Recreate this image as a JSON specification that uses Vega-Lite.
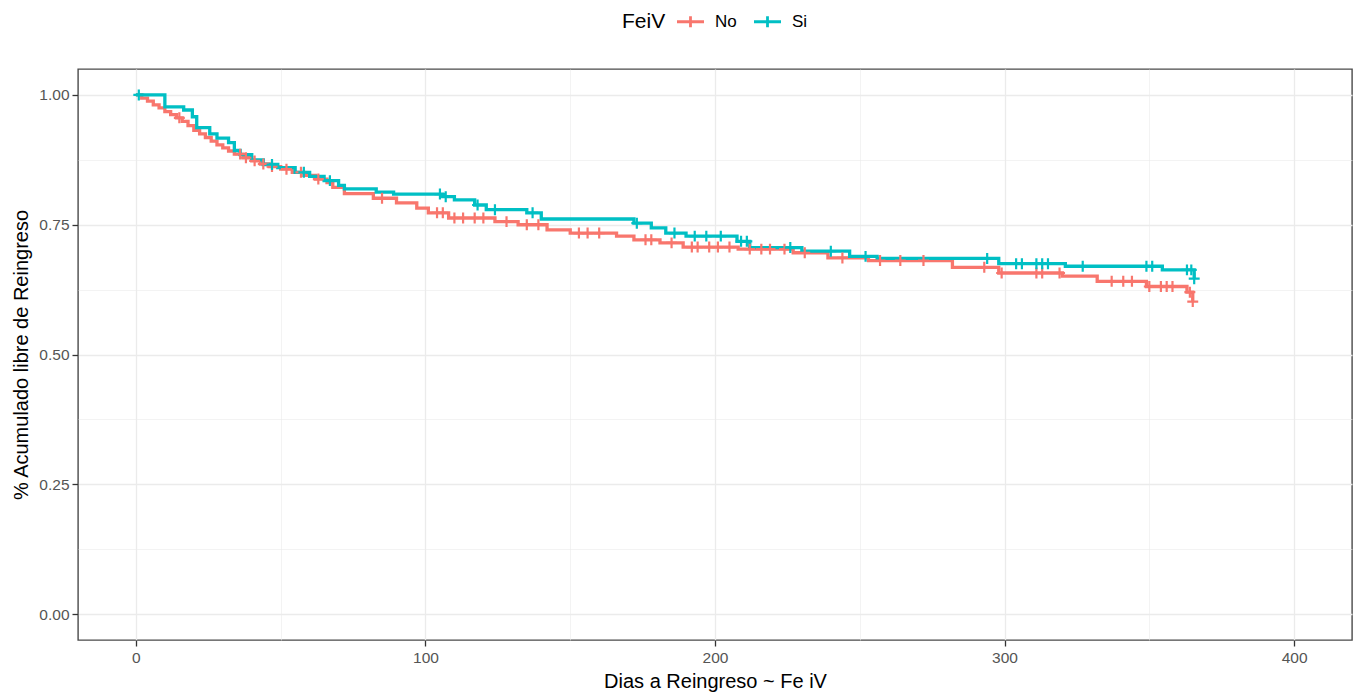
{
  "$schema": "https://vega.github.io/schema/vega-lite/v6.json",
  "width": 1274,
  "height": 571,
  "autosize": {"type": "none"},
  "padding": {"left": 78, "top": 69, "right": 6, "bottom": 53},
  "background": "white",
  "config": {
    "font": "Liberation Sans",
    "view": {"stroke": "#4a4a4a", "strokeWidth": 1.4},
    "axis": {"domain": false, "labelFont": "Liberation Sans", "titleFont": "Liberation Sans", "labelColor": "#555555", "labelFontSize": 15.5, "titleFontSize": 20, "titleFontWeight": "normal", "titleColor": "#000000", "tickColor": "#333333", "tickSize": 6, "tickWidth": 1.3, "gridColor": "#EBEBEB"},
    "legend": {"orient": "none", "legendX": 544, "legendY": -58, "direction": "horizontal", "titleOrient": "left", "titleFontSize": 21, "titleFontWeight": "normal", "titleColor": "#000000", "labelFontSize": 17, "labelColor": "#000000", "titleFont": "Liberation Sans", "labelFont": "Liberation Sans"}
  },
  "datasets": {
    "steps": [
      {"FeiV": "No", "t": 0, "s": 1.0}, {"FeiV": "No", "t": 2, "s": 0.994}, {"FeiV": "No", "t": 4, "s": 0.988}, {"FeiV": "No", "t": 6, "s": 0.981},
      {"FeiV": "No", "t": 8, "s": 0.975}, {"FeiV": "No", "t": 10, "s": 0.968}, {"FeiV": "No", "t": 12, "s": 0.962}, {"FeiV": "No", "t": 14, "s": 0.956},
      {"FeiV": "No", "t": 16, "s": 0.949}, {"FeiV": "No", "t": 18, "s": 0.941}, {"FeiV": "No", "t": 20, "s": 0.932}, {"FeiV": "No", "t": 22, "s": 0.925},
      {"FeiV": "No", "t": 24, "s": 0.918}, {"FeiV": "No", "t": 26, "s": 0.911}, {"FeiV": "No", "t": 28, "s": 0.904}, {"FeiV": "No", "t": 30, "s": 0.898},
      {"FeiV": "No", "t": 32, "s": 0.892}, {"FeiV": "No", "t": 34, "s": 0.886}, {"FeiV": "No", "t": 37, "s": 0.879}, {"FeiV": "No", "t": 40, "s": 0.873},
      {"FeiV": "No", "t": 43, "s": 0.867}, {"FeiV": "No", "t": 46, "s": 0.862}, {"FeiV": "No", "t": 50, "s": 0.857}, {"FeiV": "No", "t": 54, "s": 0.851},
      {"FeiV": "No", "t": 58, "s": 0.845}, {"FeiV": "No", "t": 62, "s": 0.838}, {"FeiV": "No", "t": 66, "s": 0.831}, {"FeiV": "No", "t": 68, "s": 0.822},
      {"FeiV": "No", "t": 72, "s": 0.81}, {"FeiV": "No", "t": 82, "s": 0.801}, {"FeiV": "No", "t": 90, "s": 0.792}, {"FeiV": "No", "t": 97, "s": 0.782},
      {"FeiV": "No", "t": 101, "s": 0.773}, {"FeiV": "No", "t": 108, "s": 0.763}, {"FeiV": "No", "t": 124, "s": 0.756}, {"FeiV": "No", "t": 132, "s": 0.75},
      {"FeiV": "No", "t": 142, "s": 0.74}, {"FeiV": "No", "t": 150, "s": 0.734}, {"FeiV": "No", "t": 166, "s": 0.728}, {"FeiV": "No", "t": 172, "s": 0.721},
      {"FeiV": "No", "t": 181, "s": 0.715}, {"FeiV": "No", "t": 189, "s": 0.707}, {"FeiV": "No", "t": 208, "s": 0.703}, {"FeiV": "No", "t": 227, "s": 0.696},
      {"FeiV": "No", "t": 239, "s": 0.686}, {"FeiV": "No", "t": 253, "s": 0.681}, {"FeiV": "No", "t": 282, "s": 0.668}, {"FeiV": "No", "t": 298, "s": 0.657},
      {"FeiV": "No", "t": 320, "s": 0.651}, {"FeiV": "No", "t": 332, "s": 0.641}, {"FeiV": "No", "t": 349, "s": 0.631}, {"FeiV": "No", "t": 363, "s": 0.62},
      {"FeiV": "No", "t": 365, "s": 0.602},
      {"FeiV": "Si", "t": 0, "s": 1.0}, {"FeiV": "Si", "t": 10, "s": 0.977}, {"FeiV": "Si", "t": 16.5, "s": 0.971}, {"FeiV": "Si", "t": 19.5, "s": 0.958},
      {"FeiV": "Si", "t": 21, "s": 0.937}, {"FeiV": "Si", "t": 25.5, "s": 0.925}, {"FeiV": "Si", "t": 28, "s": 0.917}, {"FeiV": "Si", "t": 32, "s": 0.908},
      {"FeiV": "Si", "t": 34, "s": 0.893}, {"FeiV": "Si", "t": 36, "s": 0.885}, {"FeiV": "Si", "t": 40, "s": 0.875}, {"FeiV": "Si", "t": 44, "s": 0.866},
      {"FeiV": "Si", "t": 49, "s": 0.86}, {"FeiV": "Si", "t": 55, "s": 0.851}, {"FeiV": "Si", "t": 60, "s": 0.843}, {"FeiV": "Si", "t": 65, "s": 0.835},
      {"FeiV": "Si", "t": 70, "s": 0.826}, {"FeiV": "Si", "t": 72, "s": 0.819}, {"FeiV": "Si", "t": 83, "s": 0.813}, {"FeiV": "Si", "t": 89, "s": 0.809},
      {"FeiV": "Si", "t": 106, "s": 0.804}, {"FeiV": "Si", "t": 110, "s": 0.798}, {"FeiV": "Si", "t": 117, "s": 0.788}, {"FeiV": "Si", "t": 121, "s": 0.779},
      {"FeiV": "Si", "t": 135, "s": 0.773}, {"FeiV": "Si", "t": 140, "s": 0.761}, {"FeiV": "Si", "t": 172, "s": 0.753}, {"FeiV": "Si", "t": 178, "s": 0.744},
      {"FeiV": "Si", "t": 183, "s": 0.734}, {"FeiV": "Si", "t": 190, "s": 0.728}, {"FeiV": "Si", "t": 207.6, "s": 0.718}, {"FeiV": "Si", "t": 212, "s": 0.706},
      {"FeiV": "Si", "t": 230, "s": 0.699}, {"FeiV": "Si", "t": 246.5, "s": 0.689}, {"FeiV": "Si", "t": 256, "s": 0.685}, {"FeiV": "Si", "t": 298, "s": 0.675},
      {"FeiV": "Si", "t": 321, "s": 0.67}, {"FeiV": "Si", "t": 354.5, "s": 0.663}, {"FeiV": "Si", "t": 365.5, "s": 0.646}
    ],
    "cens": [
      {"FeiV": "No", "t": 15, "s": 0.956}, {"FeiV": "No", "t": 36, "s": 0.886}, {"FeiV": "No", "t": 38, "s": 0.879}, {"FeiV": "No", "t": 41, "s": 0.873},
      {"FeiV": "No", "t": 44, "s": 0.867}, {"FeiV": "No", "t": 47, "s": 0.862}, {"FeiV": "No", "t": 52, "s": 0.857}, {"FeiV": "No", "t": 57, "s": 0.851},
      {"FeiV": "No", "t": 63, "s": 0.838}, {"FeiV": "No", "t": 85, "s": 0.801}, {"FeiV": "No", "t": 104, "s": 0.773}, {"FeiV": "No", "t": 106, "s": 0.773},
      {"FeiV": "No", "t": 110, "s": 0.763}, {"FeiV": "No", "t": 113, "s": 0.763}, {"FeiV": "No", "t": 117, "s": 0.763}, {"FeiV": "No", "t": 120, "s": 0.763},
      {"FeiV": "No", "t": 128, "s": 0.756}, {"FeiV": "No", "t": 135, "s": 0.75}, {"FeiV": "No", "t": 139, "s": 0.75}, {"FeiV": "No", "t": 153, "s": 0.734},
      {"FeiV": "No", "t": 156, "s": 0.734}, {"FeiV": "No", "t": 160, "s": 0.734}, {"FeiV": "No", "t": 176, "s": 0.721}, {"FeiV": "No", "t": 178, "s": 0.721},
      {"FeiV": "No", "t": 185, "s": 0.715}, {"FeiV": "No", "t": 192, "s": 0.707}, {"FeiV": "No", "t": 194, "s": 0.707}, {"FeiV": "No", "t": 198, "s": 0.707},
      {"FeiV": "No", "t": 201, "s": 0.707}, {"FeiV": "No", "t": 205, "s": 0.707}, {"FeiV": "No", "t": 212, "s": 0.703}, {"FeiV": "No", "t": 216, "s": 0.703},
      {"FeiV": "No", "t": 219, "s": 0.703}, {"FeiV": "No", "t": 224, "s": 0.703}, {"FeiV": "No", "t": 231, "s": 0.696}, {"FeiV": "No", "t": 244, "s": 0.686},
      {"FeiV": "No", "t": 257, "s": 0.681}, {"FeiV": "No", "t": 264, "s": 0.681}, {"FeiV": "No", "t": 272, "s": 0.681}, {"FeiV": "No", "t": 293, "s": 0.668},
      {"FeiV": "No", "t": 299, "s": 0.657}, {"FeiV": "No", "t": 311, "s": 0.657}, {"FeiV": "No", "t": 313, "s": 0.657}, {"FeiV": "No", "t": 319, "s": 0.657},
      {"FeiV": "No", "t": 337, "s": 0.641}, {"FeiV": "No", "t": 341, "s": 0.641}, {"FeiV": "No", "t": 344, "s": 0.641}, {"FeiV": "No", "t": 350, "s": 0.631},
      {"FeiV": "No", "t": 354, "s": 0.631}, {"FeiV": "No", "t": 356, "s": 0.631}, {"FeiV": "No", "t": 358, "s": 0.631}, {"FeiV": "No", "t": 364, "s": 0.62},
      {"FeiV": "No", "t": 365, "s": 0.602},
      {"FeiV": "Si", "t": 1, "s": 1.0}, {"FeiV": "Si", "t": 47, "s": 0.866}, {"FeiV": "Si", "t": 58, "s": 0.851}, {"FeiV": "Si", "t": 67, "s": 0.835},
      {"FeiV": "Si", "t": 105, "s": 0.809}, {"FeiV": "Si", "t": 107, "s": 0.804}, {"FeiV": "Si", "t": 118, "s": 0.788}, {"FeiV": "Si", "t": 124, "s": 0.779},
      {"FeiV": "Si", "t": 137, "s": 0.773}, {"FeiV": "Si", "t": 173, "s": 0.753}, {"FeiV": "Si", "t": 186, "s": 0.734}, {"FeiV": "Si", "t": 193, "s": 0.728},
      {"FeiV": "Si", "t": 197, "s": 0.728}, {"FeiV": "Si", "t": 202, "s": 0.728}, {"FeiV": "Si", "t": 209, "s": 0.718}, {"FeiV": "Si", "t": 211, "s": 0.718},
      {"FeiV": "Si", "t": 226, "s": 0.706}, {"FeiV": "Si", "t": 240, "s": 0.699}, {"FeiV": "Si", "t": 252, "s": 0.689}, {"FeiV": "Si", "t": 294, "s": 0.685},
      {"FeiV": "Si", "t": 304, "s": 0.675}, {"FeiV": "Si", "t": 306, "s": 0.675}, {"FeiV": "Si", "t": 311, "s": 0.675}, {"FeiV": "Si", "t": 313, "s": 0.675},
      {"FeiV": "Si", "t": 315, "s": 0.675}, {"FeiV": "Si", "t": 327, "s": 0.67}, {"FeiV": "Si", "t": 349, "s": 0.67}, {"FeiV": "Si", "t": 351, "s": 0.67},
      {"FeiV": "Si", "t": 363, "s": 0.663}, {"FeiV": "Si", "t": 364.5, "s": 0.663}, {"FeiV": "Si", "t": 365.5, "s": 0.646}
    ]
  },
  "encoding": {
    "x": {"field": "t", "type": "quantitative", "scale": {"domain": [-20, 420], "nice": false, "zero": false},
      "axis": {"title": "Dias a Reingreso ~ Fe iV", "values": [0, 50, 100, 150, 200, 250, 300, 350, 400],
        "labelExpr": "datum.value % 100 === 0 ? datum.label : ''",
        "gridWidth": {"condition": {"test": "datum.value % 100 === 0", "value": 1.3}, "value": 0.6},
        "tickOpacity": {"condition": {"test": "datum.value % 100 === 0", "value": 1}, "value": 0},
        "labelPadding": 4, "titlePadding": 6}},
    "y": {"field": "s", "type": "quantitative", "scale": {"domain": [-0.05, 1.05], "nice": false, "zero": false},
      "axis": {"title": "% Acumulado libre de Reingreso", "values": [0, 0.125, 0.25, 0.375, 0.5, 0.625, 0.75, 0.875, 1],
        "format": ".2f",
        "labelExpr": "datum.value % 0.25 === 0 ? datum.label : ''",
        "gridWidth": {"condition": {"test": "datum.value % 0.25 === 0", "value": 1.3}, "value": 0.6},
        "tickOpacity": {"condition": {"test": "datum.value % 0.25 === 0", "value": 1}, "value": 0},
        "labelPadding": 3, "titlePadding": 7}},
    "color": {"field": "FeiV", "type": "nominal", "scale": {"domain": ["No", "Si"], "range": ["#F8766D", "#00BFC4"]},
      "legend": {"title": "FeiV", "symbolType": "M-1.5,0H1.5M0,-0.6V0.6", "symbolSize": 324, "symbolStrokeWidth": 2.8, "symbolFillColor": "transparent", "labelOffset": 14, "columnPadding": 11, "titlePadding": 14}}
  },
  "layer": [
    {"data": {"name": "steps"}, "mark": {"type": "line", "interpolate": "step-after", "strokeWidth": 3.3}},
    {"data": {"name": "cens"}, "mark": {"type": "point", "shape": "M-1,0H1M0,-1V1", "filled": false, "size": 120, "strokeWidth": 2.2, "opacity": 1}},
    {"data": {"values": [{"label": "p = 0.42"}]}, "mark": {"type": "text", "align": "left", "baseline": "middle", "fontSize": 24, "font": "Liberation Sans", "color": "#000000"},
      "encoding": {"x": {"datum": 7.6}, "y": {"datum": 0.19}, "text": {"field": "label"}, "color": {"value": "#000000"}}}
  ]
}
